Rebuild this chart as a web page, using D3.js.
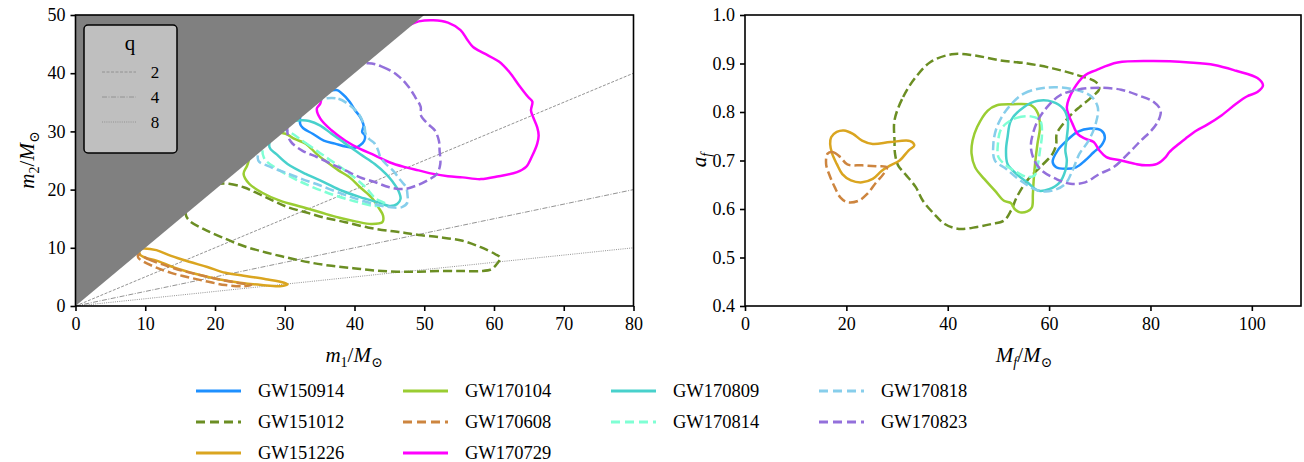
<!DOCTYPE html>
<html><head><meta charset="utf-8">
<script src="https://cdn.jsdelivr.net/npm/d3@7"></script>
<style>
body{margin:0;background:#fff;}
svg{display:block;font-family:"Liberation Serif","DejaVu Serif",serif;}
</style></head>
<body><svg id="c" width="1304" height="462"></svg>
<script>
// ---- data ----
const events = ["GW150914","GW151012","GW151226","GW170104","GW170608","GW170729","GW170809","GW170814","GW170818","GW170823"];
const colors = ["#1E90FF","#6B8E23","#DAA520","#9ACD32","#CD853F","#FF00FF","#48D1CC","#7FFFD4","#87CEEB","#9370DB"];
const dashed = [false,true,false,false,true,false,false,true,true,true];
const qValues = [2,4,8];
const qDash = ["3,1.5","5,1.5,1,1.5","1,1.2"];
const xTicksL = [0,10,20,30,40,50,60,70,80];
const yTicksL = [0,10,20,30,40,50];
const xTicksR = [0,20,40,60,80,100];
const yTicksR = [0.4,0.5,0.6,0.7,0.8,0.9,1.0];

// m1-m2 90% contours [m1, m2]
const GW150914_m = [[37.4,37.1],[38.2,36.5],[39.3,35.1],[40.1,33.6],[40.8,32.5],[41.3,31.0],[41.1,29.9],[41.5,29.3],[41.4,28.4],[40.8,27.6],[40.1,27.2],[38.7,27.4],[37.2,27.9],[35.6,28.4],[34.0,29.6],[32.7,30.5],[32.2,31.3],[33,35]];
const GW151012_m = [[20.5,21.0],[22.0,21.0],[24.1,20.4],[26.2,19.3],[28.3,18.1],[30.4,17.0],[33.0,16.1],[35.6,15.2],[38.7,14.4],[41.9,13.5],[45.0,12.9],[47.1,12.6],[49.2,12.2],[52.3,11.8],[55.5,11.2],[58.1,10.1],[60.2,8.9],[60.9,8.3],[60.4,7.2],[59.6,6.3],[58.1,6.0],[55.5,6.0],[52.3,6.0],[49.2,5.9],[46.1,5.9],[42.9,6.1],[39.8,6.5],[36.7,6.9],[33.5,7.5],[30.4,8.3],[27.3,9.2],[24.1,10.3],[21.0,11.8],[18.4,13.2],[16.3,14.7],[15.8,15.8],[16.5,18.5],[18.5,20.5]];
const GW151226_m = [[9.8,9.9],[11.6,9.6],[13.7,8.6],[16.3,7.6],[18.9,6.7],[21.5,5.7],[24.1,5.2],[27.3,4.6],[29.9,4.0],[30.4,3.7],[29.3,3.4],[26.7,3.6],[23.6,4.0],[20.5,4.6],[17.3,5.5],[14.2,6.6],[11.6,7.8],[10.0,8.3],[9.2,8.9],[9.3,9.8]];
const GW170104_m = [[30.1,29.6],[31.4,28.7],[33.0,27.9],[34.6,26.1],[36.1,24.7],[37.7,23.3],[39.3,22.1],[40.8,20.4],[42.4,18.7],[43.4,17.0],[44.1,15.5],[44.0,14.4],[42.4,14.1],[40.3,14.5],[37.7,15.2],[35.1,16.1],[32.5,17.0],[29.3,18.1],[26.7,19.5],[24.9,21.0],[24.1,22.7],[24.6,24.1],[25.5,27],[28,29.5]];
const GW170608_m = [[9.0,8.9],[10.5,8.0],[12.6,7.1],[15.2,6.1],[17.9,5.3],[20.5,4.6],[23.1,4.0],[25.2,3.6],[24.1,3.4],[21.5,3.6],[18.9,4.2],[16.3,4.9],[13.7,5.7],[11.6,6.6],[9.8,7.6],[9.0,8.3]];
const GW170729_m = [[47.9,48.3],[49.2,48.9],[51.3,49.1],[53.4,48.7],[55.2,47.4],[56.2,45.7],[57.0,44.5],[58.6,43.4],[60.7,42.0],[62.2,40.2],[63.6,37.9],[64.9,35.9],[65.5,35.1],[65.3,33.6],[65.6,32.5],[66.2,30.7],[66.4,29.3],[66.2,27.9],[65.4,25.6],[64.6,23.9],[63.3,23.0],[60.7,22.3],[58.1,21.8],[55.5,22.1],[53.4,22.3],[51.3,22.7],[49.2,23.3],[47.1,23.9],[45.0,24.7],[42.9,25.9],[40.8,27.0],[38.7,28.4],[36.7,30.2],[35.1,32.2],[34.6,33.9],[35.1,34.8],[36,40],[42,46]];
const GW170809_m = [[32.2,31.9],[33.5,31.8],[35.1,31.0],[36.7,29.6],[38.7,27.9],[40.8,26.1],[42.9,24.4],[44.5,22.7],[45.5,21.3],[46.3,19.8],[46.6,18.4],[46.1,17.5],[45.0,17.2],[43.4,17.8],[40.8,18.7],[38.2,19.8],[35.6,21.3],[33.0,22.7],[30.4,24.4],[28.8,26.1],[27.8,27.3],[29,31]];
const GW170814_m = [[30.5,30],[33,28],[36,25.5],[39,23],[41.5,20.5],[43,18.5],[44.5,17.5],[43,17.2],[40,18],[36,19.5],[32,21.5],[29,23.5],[27,25.5],[27,28],[29,30.5]];
const GW170818_m = [[35.6,35.6],[37.7,35.6],[39.3,34.5],[40.6,33.0],[41.4,31.0],[41.6,29.6],[42.1,28.7],[42.9,27.9],[43.4,26.7],[43.7,25.6],[44.5,24.4],[45.5,23.3],[46.6,21.6],[47.4,20.4],[47.6,19.0],[47.6,17.8],[46.8,17.0],[45.0,17.0],[42.9,17.5],[40.3,18.4],[37.7,19.5],[35.1,20.7],[32.5,21.8],[29.9,23.0],[27.5,24.1],[26.2,25.0],[27,29],[31,33.5]];
const GW170823_m = [[41.9,41.7],[44.0,41.1],[46.1,39.7],[47.6,37.9],[48.7,35.9],[49.5,34.2],[49.5,32.8],[50.5,31.3],[51.5,30.2],[52.1,28.4],[52.2,26.7],[52.3,24.4],[51.8,22.7],[50.5,21.6],[48.9,20.7],[47.1,20.1],[45.0,20.4],[42.9,21.3],[40.8,22.1],[38.7,23.3],[36.7,24.4],[34.6,25.6],[32.5,26.7],[30.9,28.2],[30.4,29.6],[31,34],[37,40]];

// final mass - final spin 90% contours [Mf, af]
const GW150914_f = [[60.7,0.697],[61.7,0.721],[63.5,0.741],[65.6,0.759],[68.1,0.766],[70.3,0.762],[71.0,0.748],[70.3,0.731],[68.8,0.717],[67.1,0.700],[65.3,0.686],[63.2,0.683],[61.4,0.686]];
const GW151012_f = [[29.5,0.783],[31.2,0.831],[33.7,0.872],[36.6,0.903],[40.8,0.919],[45.1,0.917],[50.0,0.907],[55.7,0.900],[60.7,0.890],[65.6,0.876],[69.2,0.862],[69.9,0.848],[68.1,0.828],[66.0,0.810],[64.2,0.793],[62.8,0.776],[61.5,0.755],[61.4,0.734],[60.7,0.714],[58.6,0.690],[55.7,0.659],[53.6,0.624],[52.5,0.597],[51.1,0.576],[48.6,0.569],[45.8,0.563],[42.2,0.559],[39.4,0.569],[37.3,0.590],[35.1,0.617],[33.7,0.645],[31.6,0.672],[30.2,0.690],[29.6,0.714],[29.5,0.741]];
const GW151226_f = [[17.0,0.748],[18.1,0.759],[19.5,0.762],[21.3,0.755],[23.1,0.741],[25.2,0.734],[28.7,0.738],[32.6,0.740],[33.4,0.731],[32.3,0.721],[30.5,0.700],[28.7,0.690],[27.0,0.679],[25.2,0.662],[23.1,0.655],[20.9,0.659],[19.2,0.672],[18.1,0.693],[17.2,0.714],[16.8,0.734]];
const GW170104_f = [[47.9,0.803],[49.7,0.814],[52.9,0.816],[56.4,0.814],[57.8,0.797],[58.2,0.769],[57.7,0.734],[57.3,0.700],[57.0,0.666],[56.8,0.631],[56.6,0.603],[55.7,0.595],[54.3,0.593],[53.2,0.600],[52.5,0.612],[51.1,0.617],[49.3,0.638],[47.2,0.662],[45.4,0.686],[44.7,0.714],[44.9,0.741],[45.8,0.769]];
const GW170608_f = [[16.3,0.714],[17.4,0.717],[18.8,0.707],[20.2,0.692],[23.1,0.690],[25.9,0.688],[28.0,0.686],[27.3,0.672],[25.9,0.655],[24.1,0.631],[22.4,0.617],[20.2,0.614],[18.8,0.624],[17.7,0.645],[16.7,0.669],[16.0,0.693]];
const GW170729_f = [[63.5,0.810],[64.9,0.848],[67.1,0.876],[69.2,0.886],[73.5,0.902],[80.6,0.905],[87.7,0.902],[92.6,0.897],[96.9,0.885],[101.1,0.870],[102.2,0.855],[101.1,0.841],[99.0,0.832],[96.9,0.817],[94.0,0.793],[91.2,0.774],[89.1,0.762],[86.9,0.745],[85.2,0.731],[83.7,0.717],[83.0,0.707],[81.3,0.693],[79.1,0.690],[77.0,0.693],[74.2,0.700],[71.3,0.707],[69.9,0.721],[68.8,0.738],[67.1,0.745],[65.6,0.755],[64.6,0.776],[63.9,0.793]];
const GW170809_f = [[52.5,0.783],[55.0,0.810],[57.8,0.823],[60.7,0.821],[62.8,0.807],[63.7,0.783],[63.5,0.748],[63.2,0.721],[63.5,0.700],[63.2,0.679],[62.1,0.655],[60.0,0.641],[57.8,0.638],[55.7,0.655],[53.6,0.672],[51.8,0.693],[51.5,0.721],[51.8,0.748]];
const GW170814_f = [[51.5,0.776],[53.6,0.788],[56.4,0.791],[58.2,0.783],[58.6,0.755],[58.2,0.721],[57.8,0.693],[57.1,0.669],[55.7,0.666],[53.6,0.676],[51.5,0.690],[50.0,0.707],[49.9,0.734],[50.4,0.762]];
const GW170818_f = [[51.5,0.803],[55.0,0.838],[59.3,0.850],[64.2,0.848],[68.1,0.834],[69.6,0.810],[69.2,0.776],[67.8,0.741],[66.0,0.714],[64.6,0.679],[63.2,0.652],[60.7,0.638],[57.8,0.638],[54.3,0.659],[51.5,0.683],[49.3,0.700],[49.0,0.734],[49.7,0.769]];
const GW170823_f = [[62.1,0.834],[65.6,0.846],[69.9,0.850],[74.2,0.846],[77.7,0.834],[80.6,0.821],[82.0,0.803],[81.6,0.783],[80.2,0.762],[78.1,0.741],[75.6,0.714],[72.7,0.686],[69.9,0.672],[67.1,0.655],[64.2,0.652],[61.4,0.662],[58.6,0.679],[57.1,0.700],[56.4,0.728],[56.8,0.755],[57.8,0.783],[59.6,0.810]];

const massContours = [GW150914_m,GW151012_m,GW151226_m,GW170104_m,GW170608_m,GW170729_m,GW170809_m,GW170814_m,GW170818_m,GW170823_m];
const finalContours = [GW150914_f,GW151012_f,GW151226_f,GW170104_f,GW170608_f,GW170729_f,GW170809_f,GW170814_f,GW170818_f,GW170823_f];

// ---- drawing ----
const svg = d3.select("#c");
const DASH = "9,4";
const LW = 2.5;

const xL = d3.scaleLinear().domain([0,80]).range([75.5,633.5]);
const yL = d3.scaleLinear().domain([0,50]).range([306,15]);
const xR = d3.scaleLinear().domain([0,109.7]).range([745,1301]);
const yR = d3.scaleLinear().domain([0.4,1.0]).range([306,15]);

const defs = svg.append("defs");
defs.append("clipPath").attr("id","clipL").append("rect")
  .attr("x",xL(0)).attr("y",yL(50)).attr("width",xL(80)-xL(0)).attr("height",yL(0)-yL(50));
defs.append("clipPath").attr("id","clipR").append("rect")
  .attr("x",xR(0)).attr("y",yR(1)).attr("width",xR(109.7)-xR(0)).attr("height",yR(0.4)-yR(1));

function contourLayer(g, data, xs, ys){
  const line = d3.line().x(d=>xs(d[0])).y(d=>ys(d[1])).curve(d3.curveCatmullRomClosed.alpha(0.5));
  data.forEach((c,i)=>{
    g.append("path").attr("d",line(c)).attr("fill","none")
      .attr("stroke",colors[i]).attr("stroke-width",LW)
      .attr("stroke-dasharray",dashed[i]?DASH:null)
      .attr("stroke-linejoin","round");
  });
}

// Left panel
const gL = svg.append("g").attr("clip-path","url(#clipL)");
qValues.forEach((q,i)=>{
  gL.append("line").attr("x1",xL(0)).attr("y1",yL(0)).attr("x2",xL(80)).attr("y2",yL(80/q))
    .attr("stroke","#777").attr("stroke-width",0.8).attr("stroke-dasharray",qDash[i]);
});
contourLayer(gL, massContours, xL, yL);
gL.append("path").attr("d",`M${xL(0)},${yL(0)}L${xL(50)},${yL(50)}L${xL(0)},${yL(50)}Z`).attr("fill","#808080");

// q legend
const lg = svg.append("g");
lg.append("rect").attr("x",84).attr("y",25).attr("width",93).attr("height",128).attr("rx",4)
  .attr("fill","#bfbfbf").attr("stroke","#000").attr("stroke-width",1.5);
lg.append("text").attr("x",130).attr("y",50).attr("text-anchor","middle").attr("font-size",21).text("q");
qValues.forEach((q,i)=>{
  const yy = 77 + i*25;
  lg.append("line").attr("x1",102).attr("x2",136).attr("y1",yy-5).attr("y2",yy-5)
    .attr("stroke","#888").attr("stroke-width",0.8).attr("stroke-dasharray",qDash[i]);
  lg.append("text").attr("x",155).attr("y",yy+1).attr("text-anchor","middle").attr("font-size",17).text(q);
});

// Right panel
const gR = svg.append("g").attr("clip-path","url(#clipR)");
contourLayer(gR, finalContours, xR, yR);

// axes
function frame(xs, ys, xd, yd){
  svg.append("rect").attr("x",xs(xd[0])).attr("y",ys(yd[1]))
    .attr("width",xs(xd[1])-xs(xd[0])).attr("height",ys(yd[0])-ys(yd[1]))
    .attr("fill","none").attr("stroke","#000").attr("stroke-width",1.6);
}
function axes(xs, ys, xt, yt, yfmt){
  const ax = svg.append("g").attr("transform",`translate(0,${ys.range()[0]})`)
    .call(d3.axisBottom(xs).tickValues(xt).tickSize(5).tickPadding(6).tickFormat(d3.format("d")));
  const ay = svg.append("g").attr("transform",`translate(${xs.range()[0]},0)`)
    .call(d3.axisLeft(ys).tickValues(yt).tickSize(5).tickPadding(5).tickFormat(yfmt));
  [ax,ay].forEach(a=>{
    a.select(".domain").remove();
    a.selectAll(".tick line").attr("stroke","#000").attr("stroke-width",1.6);
    a.selectAll(".tick text").attr("font-size",18).attr("fill","#000")
      .attr("font-family","'Liberation Serif','DejaVu Serif',serif");
  });
}
frame(xL, yL, [0,80], [0,50]);
frame(xR, yR, [0,109.7], [0.4,1.0]);
axes(xL, yL, xTicksL, yTicksL, d3.format("d"));
axes(xR, yR, xTicksR, yTicksR, d3.format(".1f"));

// axis labels
function mathLabel(x, y, rot, parts){
  const t = svg.append("text").attr("transform",`translate(${x},${y}) rotate(${rot})`)
    .attr("text-anchor","middle").attr("font-size",21);
  parts.forEach(p=>{
    const s = t.append("tspan").text(p.t);
    if(p.i) s.attr("font-style","italic");
    if(p.sub) s.attr("font-size",14).attr("dy",5);
    if(p.up) s.attr("dy",-5);
  });
}
mathLabel(354, 362, 0, [{t:"m",i:1},{t:"1",sub:1},{t:"/",up:1},{t:"M",i:1},{t:"⊙",sub:1}]);
mathLabel(34, 160, -90, [{t:"m",i:1},{t:"2",sub:1},{t:"/",up:1},{t:"M",i:1},{t:"⊙",sub:1}]);
mathLabel(1024, 362, 0, [{t:"M",i:1},{t:"f",i:1,sub:1},{t:"/",up:1},{t:"M",i:1},{t:"⊙",sub:1}]);
mathLabel(706, 160, -90, [{t:"a",i:1},{t:"f",i:1,sub:1}]);

// bottom legend
const colX = [196,403,611,819];
const rowY = [391,422,453];
const legendLayout = [[0,0],[0,1],[0,2],[1,0],[1,1],[1,2],[2,0],[2,1],[3,0],[3,1]];
const leg = svg.append("g");
events.forEach((e,i)=>{
  const [c,r] = legendLayout[i];
  const x0 = colX[c], yy = rowY[r];
  leg.append("line").attr("x1",x0).attr("x2",x0+45).attr("y1",yy).attr("y2",yy)
    .attr("stroke",colors[i]).attr("stroke-width",3)
    .attr("stroke-dasharray",dashed[i]?"9,5":null);
  leg.append("text").attr("x",x0+62).attr("y",yy+6).attr("font-size",18.5).text(e);
});
</script></body></html>
